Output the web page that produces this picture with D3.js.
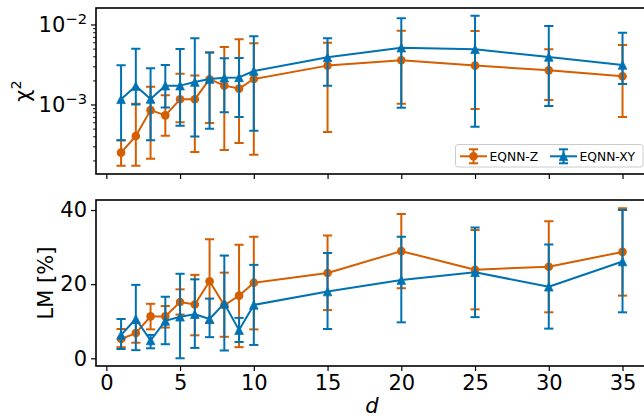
<!DOCTYPE html>
<html><head><meta charset="utf-8">
<script src="https://cdn.jsdelivr.net/npm/d3@7"></script>
<style>
body{margin:0;background:#fff;}
svg{display:block;font-family:"DejaVu Sans",sans-serif;}
</style>
</head><body>
<svg id="c" width="644" height="416"></svg>
<script>
// ---------- data ----------
const dVals = [1,2,3,4,5,6,7,8,9,10,15,20,25,30,35];

// chi^2 (log scale) - EQNN-Z
const chiZ   = [2.50e-4,4.04e-4,8.5e-4,7.3e-4,1.16e-3,1.16e-3,2.07e-3,1.72e-3,1.58e-3,2.08e-3,3.06e-3,3.57e-3,3.06e-3,2.67e-3,2.25e-3];
const chiZLo = [1.71e-4,1.71e-4,2.1e-4,4.07e-4,6.0e-4,2.55e-4,5.87e-4,2.7e-4,3.31e-4,2.36e-4,4.53e-4,1.02e-3,8.79e-4,1.14e-3,6.98e-4];
const chiZHi = [3.57e-4,1.02e-3,1.67e-3,1.3e-3,2.43e-3,2.3e-3,4.48e-3,5.24e-3,6.53e-3,5.82e-3,5.93e-3,8.37e-3,8.3e-3,4.9e-3,5.54e-3];
// chi^2 - EQNN-XY
const chiXY   = [1.16e-3,1.70e-3,1.17e-3,1.72e-3,1.72e-3,1.91e-3,2.08e-3,2.16e-3,2.18e-3,2.62e-3,3.89e-3,5.13e-3,4.9e-3,3.93e-3,3.12e-3];
const chiXYLo = [3.57e-4,1.0e-3,3.57e-4,9.2e-4,5.43e-4,3.98e-4,4.99e-4,7.98e-4,6.98e-4,4.71e-4,1.72e-3,9.1e-4,5.28e-4,9.57e-4,1.8e-3];
const chiXYHi = [3.09e-3,4.99e-3,2.83e-3,3.12e-3,4.94e-3,6.72e-3,4.48e-3,3.78e-3,3.8e-3,7.12e-3,6.72e-3,1.2e-2,1.29e-2,9.57e-3,7.9e-3];

// LM [%] - EQNN-Z
const lmZ   = [5.2,6.8,11.3,11.3,15.2,14.5,20.8,14.3,16.9,20.4,23.0,28.9,23.9,24.7,28.7];
const lmZLo = [3.0,4.2,7.8,8.3,11.8,6.2,9.5,5.8,3.0,7.8,13.0,18.9,13.2,12.4,16.9];
const lmZHi = [7.9,9.5,14.7,14.1,18.6,22.5,32.1,23.1,30.6,32.8,33.1,38.9,34.6,37.0,40.5];
// LM [%] - EQNN-XY
const lmXY   = [6.3,10.6,4.8,10.1,11.2,11.9,10.6,14.8,7.6,14.4,18.0,21.1,23.2,19.3,26.1];
const lmXYLo = [2.5,2.2,2.7,3.8,0.0,2.8,5.7,2.1,4.4,3.6,7.9,9.7,11.1,8.0,12.4];
const lmXYHi = [10.6,19.8,6.3,16.6,22.8,21.3,16.1,27.7,10.9,25.2,28.4,32.8,35.3,30.7,40.0];

const seriesNames  = ["EQNN-Z","EQNN-XY"];
const seriesColors = ["#D55E00","#0072B2"];
const seriesMarkers = ["circle","triangle"];

const xTickVals = [0,5,10,15,20,25,30,35];
const lmTickVals = [0,20,40];
const chiMajorTicks = [1e-3,1e-2];
const chiMinorTicks = [2e-4,3e-4,4e-4,5e-4,6e-4,7e-4,8e-4,9e-4,2e-3,3e-3,4e-3,5e-3,6e-3,7e-3,8e-3,9e-3];

// ---------- layout ----------
const svg = d3.select("#c");
svg.append("rect").attr("width",644).attr("height",416).attr("fill","#fff");
const L = 96, R = 647.6;
const topT = 8, topB = 174, botT = 200, botB = 366;
const FS = 21;

const x = d3.scaleLinear().domain([-0.7,36.7]).range([L,R]);
const yChi = d3.scaleLog().domain([1.352e-4,1.607e-2]).range([topB,topT]);
const yLM = d3.scaleLinear().domain([-2.08,42.7]).range([botB,botT]);

const defs = svg.append("defs");
defs.append("clipPath").attr("id","clipTop").append("rect")
  .attr("x",L).attr("y",topT).attr("width",R-L).attr("height",topB-topT);
defs.append("clipPath").attr("id","clipBot").append("rect")
  .attr("x",L).attr("y",botT).attr("width",R-L).attr("height",botB-botT);

function markerPath(type, s){
  if(type==="triangle"){
    const h = s/2;
    return `M0,${-h}L${h},${h}L${-h},${h}Z`;
  }
  return null;
}

function drawMarker(g, type, color, cx, cy){
  if(type==="circle"){
    g.append("circle").attr("cx",cx).attr("cy",cy).attr("r",4.3).attr("fill",color);
  } else {
    g.append("path").attr("d",markerPath("triangle",8.6))
      .attr("transform",`translate(${cx},${cy})`)
      .attr("fill",color).attr("stroke",color).attr("stroke-width",0.8).attr("stroke-linejoin","miter");
  }
}

function drawSeries(g, y, vals, lo, hi, color, marker){
  const cap = 4.6;
  const eg = g.append("g").attr("stroke",color).attr("stroke-width",2).attr("fill","none");
  dVals.forEach((dv,i)=>{
    const cx = x(dv);
    eg.append("line").attr("x1",cx).attr("x2",cx).attr("y1",y(lo[i])).attr("y2",y(hi[i]));
    eg.append("line").attr("x1",cx-cap).attr("x2",cx+cap).attr("y1",y(lo[i])).attr("y2",y(lo[i]));
    eg.append("line").attr("x1",cx-cap).attr("x2",cx+cap).attr("y1",y(hi[i])).attr("y2",y(hi[i]));
  });
  const line = d3.line().x((v,i)=>x(dVals[i])).y(v=>y(v));
  g.append("path").datum(vals).attr("d",line).attr("fill","none")
    .attr("stroke",color).attr("stroke-width",2).attr("stroke-linejoin","round");
  const mg = g.append("g");
  vals.forEach((v,i)=>drawMarker(mg, marker, color, x(dVals[i]), y(v)));
}

// ---------- top panel ----------
const gTop = svg.append("g").attr("clip-path","url(#clipTop)");
drawSeries(gTop, yChi, chiZ, chiZLo, chiZHi, seriesColors[0], seriesMarkers[0]);
drawSeries(gTop, yChi, chiXY, chiXYLo, chiXYHi, seriesColors[1], seriesMarkers[1]);

// ---------- bottom panel ----------
const gBot = svg.append("g").attr("clip-path","url(#clipBot)");
drawSeries(gBot, yLM, lmZ, lmZLo, lmZHi, seriesColors[0], seriesMarkers[0]);
drawSeries(gBot, yLM, lmXY, lmXYLo, lmXYHi, seriesColors[1], seriesMarkers[1]);

// ---------- axes ----------
function styleAxis(g){
  g.select(".domain").remove();
  g.selectAll(".tick line").attr("stroke","#000").attr("stroke-width",1.2);
  g.selectAll(".tick text").attr("fill","#000").attr("font-size",FS)
    .attr("font-family","'DejaVu Sans',sans-serif");
}

// top x ticks (no labels)
const axTopX = svg.append("g").attr("transform",`translate(0,${topB})`)
  .call(d3.axisBottom(x).tickValues(xTickVals).tickSize(5).tickFormat(""));
styleAxis(axTopX);

// bottom x axis
const axBotX = svg.append("g").attr("transform",`translate(0,${botB})`)
  .call(d3.axisBottom(x).tickValues(xTickVals).tickSize(5).tickPadding(4).tickFormat(d3.format("d")));
styleAxis(axBotX);

// LM y axis
const axLM = svg.append("g").attr("transform",`translate(${L},0)`)
  .call(d3.axisLeft(yLM).tickValues(lmTickVals).tickSize(5).tickPadding(4).tickFormat(d3.format("d")));
styleAxis(axLM);

// chi y axis: minor ticks
const axChiMinor = svg.append("g").attr("transform",`translate(${L},0)`)
  .call(d3.axisLeft(yChi).tickValues(chiMinorTicks).tickSize(3).tickFormat(""));
styleAxis(axChiMinor);
axChiMinor.selectAll(".tick line").attr("stroke-width",0.9);

// chi y axis: majors with 10^n labels
const axChi = svg.append("g").attr("transform",`translate(${L},0)`)
  .call(d3.axisLeft(yChi).tickValues(chiMajorTicks).tickSize(5).tickPadding(4).tickFormat(""));
styleAxis(axChi);
axChi.selectAll(".tick text").each(function(v){
  const t = d3.select(this);
  t.text(null);
  t.append("tspan").text("10");
  t.append("tspan").attr("font-size","0.7em").attr("dy","-0.55em")
    .text("\u2212" + Math.round(-Math.log10(v)));
});

// frames (spines)
[[topT,topB],[botT,botB]].forEach(([t,b])=>{
  svg.append("rect").attr("x",L).attr("y",t).attr("width",R-L).attr("height",b-t)
    .attr("fill","none").attr("stroke","#000").attr("stroke-width",1.6);
});

// axis labels
const chiLab = svg.append("text").attr("transform",`translate(30,${(topT+topB)/2}) rotate(-90)`)
  .attr("text-anchor","middle").attr("font-size",FS).attr("fill","#000");
chiLab.append("tspan").text("\u03C7");
chiLab.append("tspan").attr("font-size","0.7em").attr("dy","-0.6em").text("2");

svg.append("text").attr("transform",`translate(52.5,${(botT+botB)/2}) rotate(-90)`)
  .attr("text-anchor","middle").attr("font-size",FS).attr("fill","#000").text("LM [%]");

svg.append("text").attr("x",(L+R)/2).attr("y",412.5).attr("text-anchor","middle")
  .attr("font-size",FS).attr("font-style","italic").attr("fill","#000").text("d");

// ---------- legend ----------
const leg = svg.append("g");
leg.append("rect").attr("x",455.5).attr("y",144.5).attr("width",187.5).attr("height",22.5)
  .attr("rx",2.5).attr("fill","#fff").attr("fill-opacity",0.8)
  .attr("stroke","#cccccc").attr("stroke-width",1);
const legX = [460, 550];
seriesNames.forEach((name,i)=>{
  const hx = legX[i], cy = 156.3, hl = 27, color = seriesColors[i];
  const cx = hx + hl/2;
  const g = leg.append("g");
  g.append("line").attr("x1",hx).attr("x2",hx+hl).attr("y1",cy).attr("y2",cy)
    .attr("stroke",color).attr("stroke-width",2);
  g.append("line").attr("x1",cx).attr("x2",cx).attr("y1",cy-7).attr("y2",cy+7)
    .attr("stroke",color).attr("stroke-width",2);
  [cy-7,cy+7].forEach(yy=>g.append("line").attr("x1",cx-4.6).attr("x2",cx+4.6)
    .attr("y1",yy).attr("y2",yy).attr("stroke",color).attr("stroke-width",2));
  drawMarker(g, seriesMarkers[i], color, cx, cy);
  g.append("text").attr("x",hx+hl+2.5).attr("y",160.7).attr("font-size",12.3)
    .attr("fill","#000").text(name);
});
</script>
</body></html>
